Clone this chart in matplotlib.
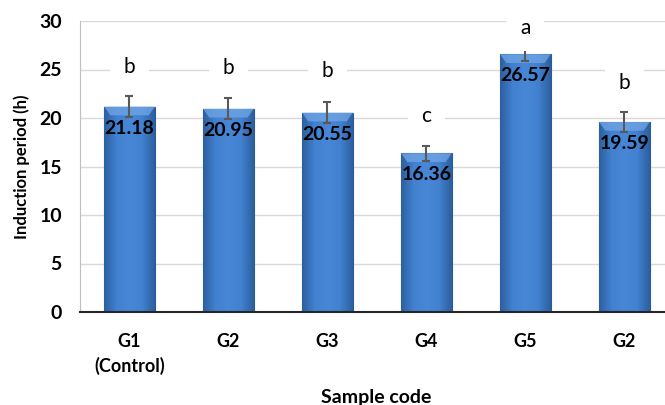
import numpy as np
import matplotlib
matplotlib.use("Agg")
import matplotlib.pyplot as plt
from matplotlib.colors import LinearSegmentedColormap

plt.rcParams['font.family'] = ['Lato', 'DejaVu Sans']

samples = ['G1\n(Control)', 'G2', 'G3', 'G4', 'G5', 'G2']
induction = [21.18, 20.95, 20.55, 16.36, 26.57, 19.59]
errors = [1.05, 1.1, 1.05, 0.8, 0.7, 1.0]
letters = ['b', 'b', 'b', 'c', 'a', 'b']
letter_y = [25.3, 25.2, 24.8, 20.2, 29.3, 23.6]

fig = plt.figure(figsize=(6.65, 4.05), dpi=100)
ax = fig.add_axes([80 / 665, 1 - 312 / 405, 1 - 80 / 665, (312 - 21) / 405])

x = np.arange(len(samples))
bars = ax.bar(x, induction, width=0.51, color='#3b76c2', edgecolor='#2b5a96',
              linewidth=0.8, zorder=2)

# bevel-like horizontal gradient on each bar
cmap = LinearSegmentedColormap.from_list('bev', ['#2d5f9e', '#4181d0', '#4787d6', '#4181d0', '#2d5f9e'])
grad = np.linspace(0, 1, 256).reshape(1, -1)
for b in bars:
    x0, y0 = b.get_x(), b.get_y()
    w, h = b.get_width(), b.get_height()
    im = ax.imshow(grad, cmap=cmap, aspect='auto', extent=[x0, x0 + w, y0, y0 + h], zorder=2.1)
    im.set_clip_path(b)
    ax.fill([x0, x0 + w, x0 + w * 0.88, x0 + w * 0.12], [y0 + h, y0 + h, y0 + h - 0.9, y0 + h - 0.9],
            color='#6ea4e4', alpha=0.8, zorder=2.2, lw=0)

ax.errorbar(x, induction, yerr=errors, fmt='none', ecolor='#595959', elinewidth=1.5,
            capsize=3, capthick=1.5, zorder=3)

for xi, v in zip(x, induction):
    ax.annotate(f'{v:.2f}', (xi, v), xytext=(0, -13), textcoords='offset pixels',
                ha='center', va='top', fontsize=14, fontweight='bold', color='black', zorder=4)

for xi, l, ly in zip(x, letters, letter_y):
    ax.text(xi, ly, l, ha='center', va='center', fontsize=15, color='black', zorder=4,
            bbox=dict(boxstyle='square,pad=0.65', fc='white', ec='none'))

ax.set_ylim(0, 30)
ax.set_xlim(-0.5, 5.41)
ax.set_yticks(range(0, 31, 5))
ax.set_xticks(x)
ax.set_xticklabels(samples, fontsize=13, fontweight='bold', linespacing=1.45)
for t in ax.get_yticklabels():
    t.set_fontsize(14)
    t.set_fontweight('bold')
ax.tick_params(axis='y', length=0, pad=13)
ax.tick_params(axis='x', length=0, pad=15)
ax.grid(axis='y', color='#d9d9d9', linewidth=1, zorder=0)
ax.set_axisbelow(True)

for s in ['top', 'right']:
    ax.spines[s].set_visible(False)
ax.spines['left'].set_color('#bfbfbf')
ax.spines['bottom'].set_color('#262626')
ax.spines['bottom'].set_linewidth(1.5)

ax.set_ylabel('Induction period (h)', fontsize=12, fontweight='bold', labelpad=7)
fig.text(376 / 665, 1 - 397 / 405, 'Sample code', ha='center', va='center',
         fontsize=14, fontweight='bold')

fig.savefig('out.png', dpi=100)
